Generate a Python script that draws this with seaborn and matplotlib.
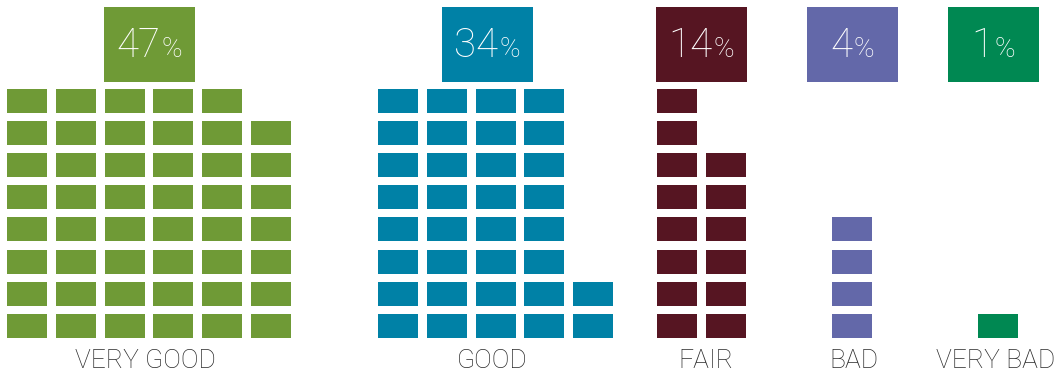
import matplotlib
matplotlib.use("Agg")
import matplotlib.pyplot as plt
from matplotlib.offsetbox import TextArea, HPacker, AnnotationBbox
import seaborn as sns

# data
categories = ["VERY GOOD", "GOOD", "FAIR", "BAD", "VERY BAD"]
percents = [47, 34, 14, 4, 1]
colors = ["#6f9a36", "#0081a6", "#561522", "#6368a9", "#008852"]

sns.set_theme(style="white")
plt.rcParams['font.family'] = ['Roboto', 'DejaVu Sans']

# layout (pixel units)
group_x = [7, 378, 657, 832, 978]
box_x = [104, 442, 656, 807, 948]
label_x = [145, 492, 706, 854, 996]
col_pitch, row_pitch = 48.8, 32.2
blk_w, blk_h = 40, 24
per_col = 8
bottom_y = 338

fig = plt.figure(figsize=(10.57, 3.76), dpi=100)
ax = fig.add_axes([0, 0, 1, 1])
ax.set_xlim(0, 1057)
ax.set_ylim(376, 0)
ax.axis("off")

for g, (cat, n, c) in enumerate(zip(categories, percents, colors)):
    xs, ys = [], []
    for i in range(n):
        col, row = divmod(i, per_col)
        xs.append(group_x[g] + col * col_pitch)
        ys.append(bottom_y - row * row_pitch)
    ax.bar(xs, [-blk_h] * n, bottom=ys, width=blk_w, align="edge", color=c, linewidth=0)

    # percentage box
    ax.bar(box_x[g], -75, bottom=82, width=91, align="edge", color=c, linewidth=0)
    num = TextArea(str(n), textprops=dict(color="white", fontsize=29, fontweight="light"))
    pct = TextArea("%", textprops=dict(color="white", fontsize=20, fontweight="light"))
    pack = HPacker(children=[num, pct], align="baseline", pad=0, sep=1)
    ab = AnnotationBbox(pack, (box_x[g] + 45.5, 46), xycoords="data", frameon=False,
                        box_alignment=(0.5, 0.5))
    ax.add_artist(ab)

    ax.text(label_x[g], 368, cat, ha="center", va="baseline", fontsize=19,
            fontweight="light", color="#2a2a2a")

fig.savefig("out.png", dpi=100)
